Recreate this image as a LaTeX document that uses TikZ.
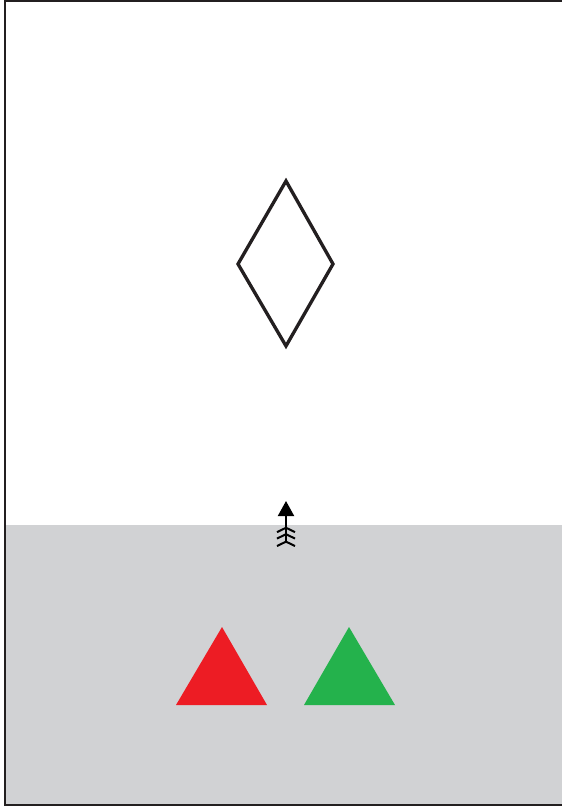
\documentclass[tikz,border=0pt]{standalone}
\usetikzlibrary{arrows.meta}
\definecolor{Ink}{RGB}{35,31,32}
\definecolor{Ground}{RGB}{209,210,212}
\definecolor{Red}{RGB}{237,28,36}
\definecolor{Green}{RGB}{36,178,76}
\begin{document}
\begin{tikzpicture}[x=0.03cm,y=-0.03cm,
  frame/.style={draw=Ink,line width=0.06cm},
  rhomb/.style={draw=Ink,line width=0.1cm,line join=miter},
  marker/.style={line width=0.06cm,black,
    {Straight Barb[reversed,length=0.13cm,width=0.54cm,sep=0.03cm]Straight Barb[reversed,length=0.13cm,width=0.54cm,sep=0.03cm]Straight Barb[reversed,length=0.13cm,width=0.54cm]}-{Triangle[length=0.45cm,width=0.48cm]}}]
\useasboundingbox (0,0) rectangle (562,809);
% ground
\fill[Ground] (5,525) rectangle (562,805);
% frame
\draw[frame] (562,1) -- (5,1) -- (5,805) -- (562,805);
% diamond
\coordinate (top) at (286,181); \coordinate (left) at (238,264);
\coordinate (bottom) at (286,346); \coordinate (right) at (333,264);
\draw[rhomb] (top) -- (left) -- (bottom) -- (right) -- cycle;
% arrow
\coordinate (tail) at (286,548); \coordinate (head) at (286,501);
\draw[marker] (tail) -- (head);
% triangles
\fill[Red] (222,627) -- (176,705) -- (267,705) -- cycle;
\fill[Green] (349,627) -- (304,705) -- (395,705) -- cycle;
\end{tikzpicture}
\end{document}
